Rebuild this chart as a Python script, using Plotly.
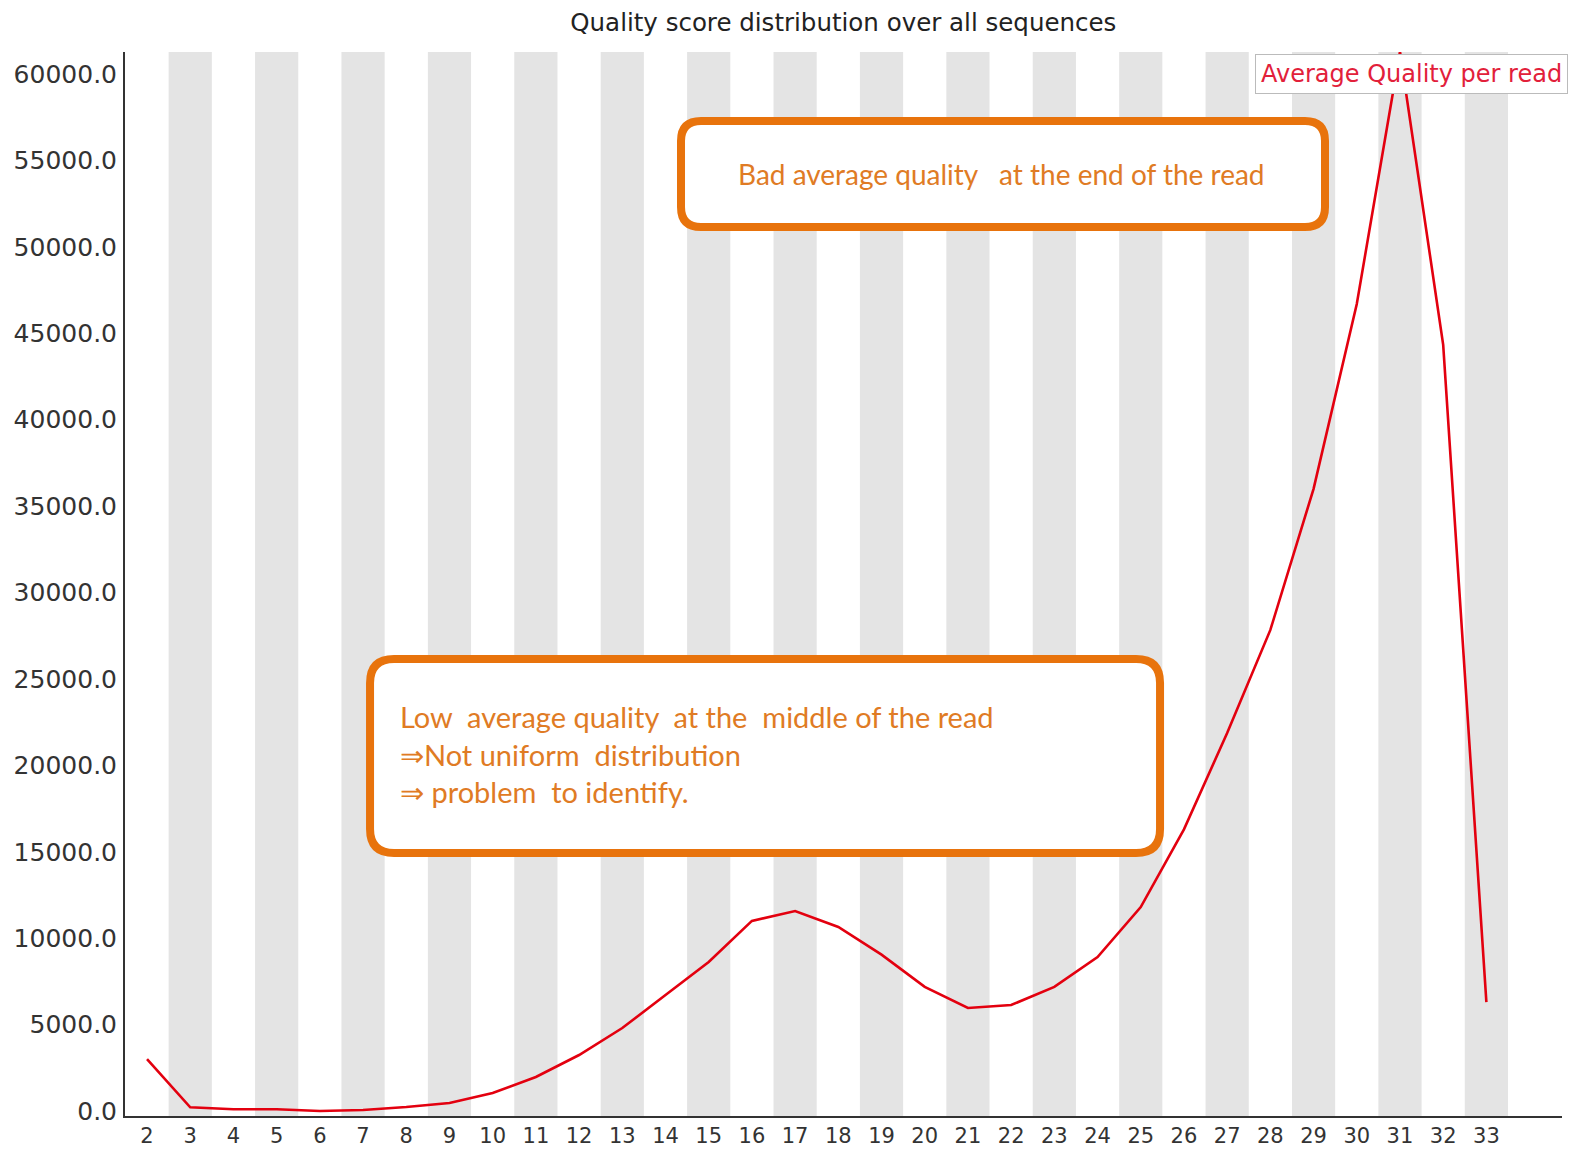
import plotly.graph_objects as go

# ---- data ----
quality = list(range(2, 34))
reads = [3000, 215, 100, 100, 0, 60, 230, 460, 1040, 1970, 3240, 4800,
         6710, 8620, 11000, 11570, 10650, 9050, 7180, 5960, 6130, 7180,
         8910, 11800, 16300, 21870, 27840, 36000, 46700, 61300, 44330, 6300]
y_ticks = [0, 5000, 10000, 15000, 20000, 25000, 30000, 35000, 40000,
           45000, 50000, 55000, 60000]
band_positions = [q for q in quality if q % 2 == 1]

title_text = "Quality score distribution over all sequences"
legend_text = "Average Quality per read"
note_end = "Bad average quality &nbsp; at the end of the read"
note_mid = ("Low &nbsp;average quality &nbsp;at the &nbsp;middle of the read<br>"
            "\u21d2Not uniform &nbsp;distribution<br>"
            "\u21d2 problem &nbsp;to identify.")

ORANGE = "#E8730C"
ORANGE_TXT = "#E07B24"
RED = "#E3000F"

fig = go.Figure()
fig.add_trace(go.Scatter(x=quality, y=reads, mode="lines",
                         line=dict(color=RED, width=2.6),
                         cliponaxis=False, showlegend=False))

shapes = []
for q in band_positions:
    shapes.append(dict(type="rect", xref="x", yref="paper", x0=q - 0.5, x1=q + 0.5,
                       y0=0, y1=1, fillcolor="#E4E4E4", line=dict(width=0),
                       layer="below"))


def rounded(hw, hh, r):
    return (f"M {-hw + r},{-hh} L {hw - r},{-hh} Q {hw},{-hh} {hw},{-hh + r} "
            f"L {hw},{hh - r} Q {hw},{hh} {hw - r},{hh} L {-hw + r},{hh} "
            f"Q {-hw},{hh} {-hw},{hh - r} L {-hw},{-hh + r} Q {-hw},{-hh} {-hw + r},{-hh} Z")


shapes.append(dict(type="path", xref="paper", yref="paper", xsizemode="pixel",
                   ysizemode="pixel", xanchor=0.611, yanchor=0.8853,
                   path=rounded(322, 53, 20), fillcolor="white",
                   line=dict(color=ORANGE, width=8), layer="above"))
shapes.append(dict(type="path", xref="paper", yref="paper", xsizemode="pixel",
                   ysizemode="pixel", xanchor=0.4454, yanchor=0.3383,
                   path=rounded(395, 97, 24), fillcolor="white",
                   line=dict(color=ORANGE, width=8), layer="above"))

annotations = [
    dict(text=note_end, xref="paper", yref="paper", x=0.610, y=0.8853,
         showarrow=False, xanchor="center", yanchor="middle",
         font=dict(family="Lato", size=28, color=ORANGE_TXT)),
    dict(text=note_mid, xref="paper", yref="paper", x=0.190, y=0.340,
         showarrow=False, xanchor="left", yanchor="middle", align="left",
         font=dict(family="Lato", size=29, color=ORANGE_TXT)),
    dict(text=legend_text, xref="paper", yref="paper", x=0.7864, y=0.9789,
         showarrow=False, xanchor="left", yanchor="middle",
         bgcolor="white", bordercolor="#BBBBBB", borderwidth=1, borderpad=5,
         font=dict(family="DejaVu Sans", size=24, color="#E2203A")),
]

fig.update_layout(
    width=1569, height=1149,
    margin=dict(l=125, r=7, t=52, b=33, autoexpand=False),
    paper_bgcolor="white", plot_bgcolor="white",
    title=dict(text=title_text, x=0.5375, xanchor="center", y=1 - 22 / 1149,
               yanchor="middle", font=dict(family="DejaVu Sans", size=24.5, color="#222")),
    shapes=shapes, annotations=annotations,
    xaxis=dict(range=[1.49, 34.75], tickmode="array", tickvals=quality,
               ticktext=[str(q) for q in quality], showgrid=False, zeroline=False,
               showline=True, linecolor="#333", linewidth=2, ticks="",
               ticklabelstandoff=0, automargin=False,
               tickfont=dict(family="DejaVu Sans", size=21, color="#333")),
    yaxis=dict(range=[-290, 61280], tickmode="array", tickvals=y_ticks,
               ticktext=[f"{v:.1f}" for v in y_ticks], showgrid=False, zeroline=False,
               showline=True, linecolor="#333", linewidth=2, ticks="",
               ticklabelstandoff=1, automargin=False,
               tickfont=dict(family="DejaVu Sans", size=25, color="#333")),
)

fig.write_html("out.html")
